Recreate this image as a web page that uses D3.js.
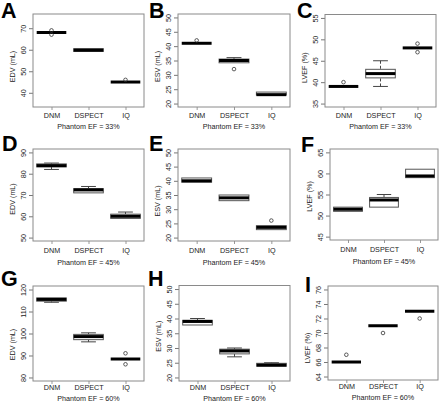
<!DOCTYPE html>
<html><head><meta charset="utf-8">
<script src="https://cdn.jsdelivr.net/npm/d3@7"></script>
<style>
html,body{margin:0;padding:0;background:#fff;}
svg{display:block;font-family:"Liberation Sans",Arial,Helvetica,sans-serif;}
</style></head>
<body><svg id="chart" width="440" height="403"></svg>
<script>
// ---------- data ----------
const categories = ["DNM", "DSPECT", "IQ"];
const panelLetters = ["A","B","C","D","E","F","G","H","I"];
const yTitles = ["EDV (mL)","ESV (mL)","LVEF (%)","EDV (mL)","ESV (mL)","LVEF (%)","EDV (mL)","ESV (mL)","LVEF (%)"];
const xTitles = ["Phantom EF = 33%","Phantom EF = 33%","Phantom EF = 33%",
                 "Phantom EF = 45%","Phantom EF = 45%","Phantom EF = 45%",
                 "Phantom EF = 60%","Phantom EF = 60%","Phantom EF = 60%"];
const yLimits = [[35,75],[20,50],[35,55],[50,90],[20,50],[45,65],[80,120],[20,50],[64,76]];
const yTicks = [
  [40,50,60,70],[20,25,30,35,40,45,50],[35,40,45,50,55],
  [50,60,70,80,90],[20,25,30,35,40,45,50],[45,50,55,60,65],
  [80,90,100,110,120],[20,25,30,35,40,45,50],[64,66,68,70,72,74,76]
];
// box stats per category: [lower whisker, Q1, median, Q3, upper whisker]
const statsA = [[68,68,68,68,68],[59.2,59.2,59.8,60.5,60.5],[45,45,45,45,45]];
const statsB = [[41,41,41,41,41],[34.2,34.2,35,35.5,36],[23,23,23.1,24,24]];
const statsC = [[39,39,39,39,39],[39,41,42,43,45],[48,48,48,48,48]];
const statsD = [[82,83.2,83.8,84.6,85],[71,71,72.4,73,74],[59,59,60,61,62]];
const statsE = [[39.5,39.5,40,41,41],[33,33,34,35,35],[22.8,22.8,23.6,24.2,24.2]];
const statsF = [[51,51,51.5,52,52],[52,52,53.7,54.3,55],[59,59,59.4,61,61]];
const statsG = [[114.2,114.7,115.5,116.2,116.2],[96.2,97.2,98.6,99.6,100.3],[88.4,88.4,88.4,88.4,88.4]];
const statsH = [[37.8,37.8,39,39.4,40],[27,28,29,29.6,30],[23.8,23.8,24.2,24.8,25]];
const statsI = [[66,66,66,66,66],[71,71,71,71,71],[73,73,73,73,73]];
// outliers per category
const outA = [[69,67],[],[46]];
const outB = [[42],[32],[]];
const outC = [[40],[],[49,47]];
const outD = [[],[],[]];
const outE = [[],[],[26]];
const outF = [[],[],[]];
const outG = [[],[],[91,86]];
const outH = [[],[],[]];
const outI = [[67],[70],[72]];
const allStats = [statsA,statsB,statsC,statsD,statsE,statsF,statsG,statsH,statsI];
const allOut = [outA,outB,outC,outD,outE,outF,outG,outH,outI];

// ---------- layout ----------
const frames = [
  {x0:33,x1:144,y0:14,y1:107,lx:1,ly:18,td:6,cl:10.6,xt:22},
  {x0:178,x1:290,y0:14,y1:107,lx:149,ly:18,td:6,cl:10.6,xt:22},
  {x0:325,x1:436,y0:14.5,y1:107,lx:297,ly:18,td:7,cl:10.6,xt:22},
  {x0:33,x1:144,y0:149,y1:241,lx:2,ly:151,td:4,cl:12,xt:23.5},
  {x0:178,x1:290,y0:149,y1:241,lx:149,ly:151,td:6,cl:12,xt:23.5},
  {x0:330,x1:438,y0:149,y1:240,lx:301,ly:152,td:2,cl:12,xt:23.5},
  {x0:33,x1:144,y0:286,y1:381,lx:1,ly:286,td:11,cl:8.5,xt:19.5},
  {x0:179,x1:290,y0:285.5,y1:381,lx:148,ly:286,td:3,cl:8.5,xt:19.5},
  {x0:328,x1:438,y0:286,y1:380,lx:305,ly:292,td:15,cl:9,xt:20}
];

const svg = d3.select("#chart");
const FS = 7.2;

frames.forEach((f, i) => {
  const g = svg.append("g");
  const lim = yLimits[i];
  const pad = (lim[1]-lim[0])*0.04;
  const y = d3.scaleLinear().domain([lim[0]-pad, lim[1]+pad]).range([f.y1, f.y0]);
  const x = d3.scalePoint().domain(categories).range([f.x0, f.x1]).padding(0.5);
  const bw = x.step()*0.8;

  // y axis
  const ya = g.append("g").attr("transform", `translate(${f.x0},0)`)
    .call(d3.axisLeft(y).tickValues(yTicks[i]).tickSize(4).tickSizeOuter(0).tickFormat(d3.format("d")));
  ya.select(".domain").remove();
  ya.selectAll(".tick line").attr("stroke","#777");
  ya.selectAll(".tick text")
    .attr("x",0).attr("dy",null).attr("y",0)
    .attr("transform","translate(-7.4,0) rotate(-90)")
    .attr("text-anchor","middle")
    .attr("font-size",FS).attr("fill","#222").attr("font-family",null);

  // x axis
  const xa = g.append("g").attr("transform", `translate(0,${f.y1})`)
    .call(d3.axisBottom(x).tickSize(3).tickSizeOuter(0));
  xa.select(".domain").remove();
  xa.selectAll(".tick line").attr("stroke","#999");
  xa.selectAll(".tick text").attr("y",f.cl).attr("dy",null)
    .attr("font-size",FS).attr("fill","#222").attr("font-family",null);

  // frame
  g.append("rect").attr("x",f.x0).attr("y",f.y0)
    .attr("width",f.x1-f.x0).attr("height",f.y1-f.y0)
    .attr("fill","none").attr("stroke","#8a8a8a").attr("stroke-width",1);

  // boxes
  allStats[i].forEach((s, j) => {
    const cx = x(categories[j]);
    const bg = g.append("g");
    if (s[0] < s[1]) {
      bg.append("line").attr("x1",cx).attr("x2",cx).attr("y1",y(s[0])).attr("y2",y(s[1]))
        .attr("stroke","#444").attr("stroke-dasharray","3,2");
      bg.append("line").attr("x1",cx-bw/4).attr("x2",cx+bw/4).attr("y1",y(s[0])).attr("y2",y(s[0]))
        .attr("stroke","#444");
    }
    if (s[4] > s[3]) {
      bg.append("line").attr("x1",cx).attr("x2",cx).attr("y1",y(s[4])).attr("y2",y(s[3]))
        .attr("stroke","#444").attr("stroke-dasharray","3,2");
      bg.append("line").attr("x1",cx-bw/4).attr("x2",cx+bw/4).attr("y1",y(s[4])).attr("y2",y(s[4]))
        .attr("stroke","#444");
    }
    bg.append("rect").attr("x",cx-bw/2).attr("y",y(s[3]))
      .attr("width",bw).attr("height",Math.max(0,y(s[1])-y(s[3])))
      .attr("fill","#fff").attr("stroke","#555").attr("stroke-width",1);
    bg.append("line").attr("x1",cx-bw/2).attr("x2",cx+bw/2)
      .attr("y1",y(s[2])).attr("y2",y(s[2]))
      .attr("stroke","#000").attr("stroke-width",3);
    allOut[i][j].forEach(v => {
      bg.append("circle").attr("cx",cx).attr("cy",y(v)).attr("r",1.8)
        .attr("fill","none").attr("stroke","#333").attr("stroke-width",0.8);
    });
  });

  // titles
  g.append("text").attr("x",(f.x0+f.x1)/2).attr("y",f.y1+f.xt)
    .attr("text-anchor","middle").attr("font-size",FS).attr("fill","#222").text(xTitles[i]);
  const ty = (f.y0+f.y1)/2 + f.td;
  g.append("text").attr("transform",`translate(${f.x0-18.5},${ty}) rotate(-90)`)
    .attr("text-anchor","middle").attr("font-size",FS).attr("fill","#222").text(yTitles[i]);
  g.append("text").attr("x",f.lx).attr("y",f.ly)
    .attr("font-size",21.5).attr("font-weight","bold").attr("fill","#000").text(panelLetters[i]);
});
</script>
</body></html>
